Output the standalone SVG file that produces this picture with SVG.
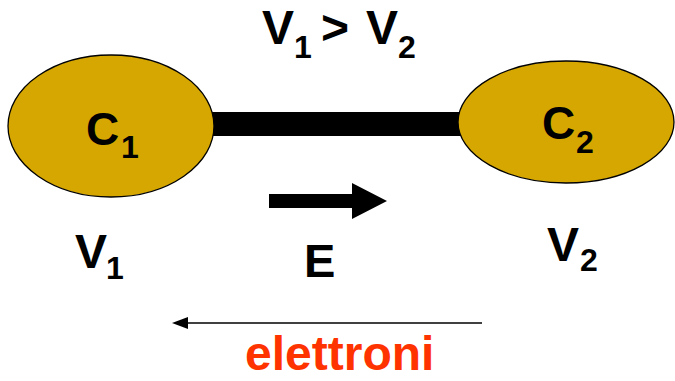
<svg xmlns="http://www.w3.org/2000/svg" width="675" height="381" viewBox="0 0 675 381">
<style>
.t{font-family:"Liberation Sans",Arial,sans-serif;font-weight:bold;fill:#000}
.m{font-size:48px}
.s{font-size:32px}
.c{fill:#D6A700;stroke:#000;stroke-width:1.3}
</style>
<rect width="675" height="381" fill="#fff"/>
<g id="title">
<text class="t m" x="262" y="44">V</text>
<text class="t s" x="294" y="58">1</text>
<text class="t m" x="321" y="44">&gt;</text>
<text class="t m" x="366" y="44">V</text>
<text class="t s" x="398" y="58">2</text>
</g>
<g id="connectors">
<rect x="210" y="112" width="252" height="24" fill="#000"/>
<polygon points="269,194 352,194 352,183 387,201 352,219 352,208 269,208" fill="#000"/>
<line x1="482" y1="323" x2="182" y2="323" stroke="#000" stroke-width="1.5"/>
<path d="M172,323 L188,317 L188,329 Z" fill="#000"/>
</g>
<g id="C1">
<ellipse class="c" cx="111" cy="126" rx="103" ry="71"/>
<text class="t" font-size="46" x="86" y="145">C</text>
<text class="t s" x="121" y="158">1</text>
</g>
<g id="C2">
<ellipse class="c" cx="566" cy="122" rx="108" ry="61"/>
<text class="t" font-size="46" x="542" y="139">C</text>
<text class="t s" x="576" y="153">2</text>
</g>
<g id="V1">
<text class="t m" x="75" y="268">V</text>
<text class="t s" x="106" y="279">1</text>
</g>
<g id="E">
<text class="t" font-size="47" x="304" y="277">E</text>
</g>
<g id="V2">
<text class="t m" x="547" y="261">V</text>
<text class="t s" x="580" y="271">2</text>
</g>
<g id="elettroni">
<text class="t" font-size="48" x="245" y="370" style="fill:#FF3300">elettroni</text>
</g>
</svg>
